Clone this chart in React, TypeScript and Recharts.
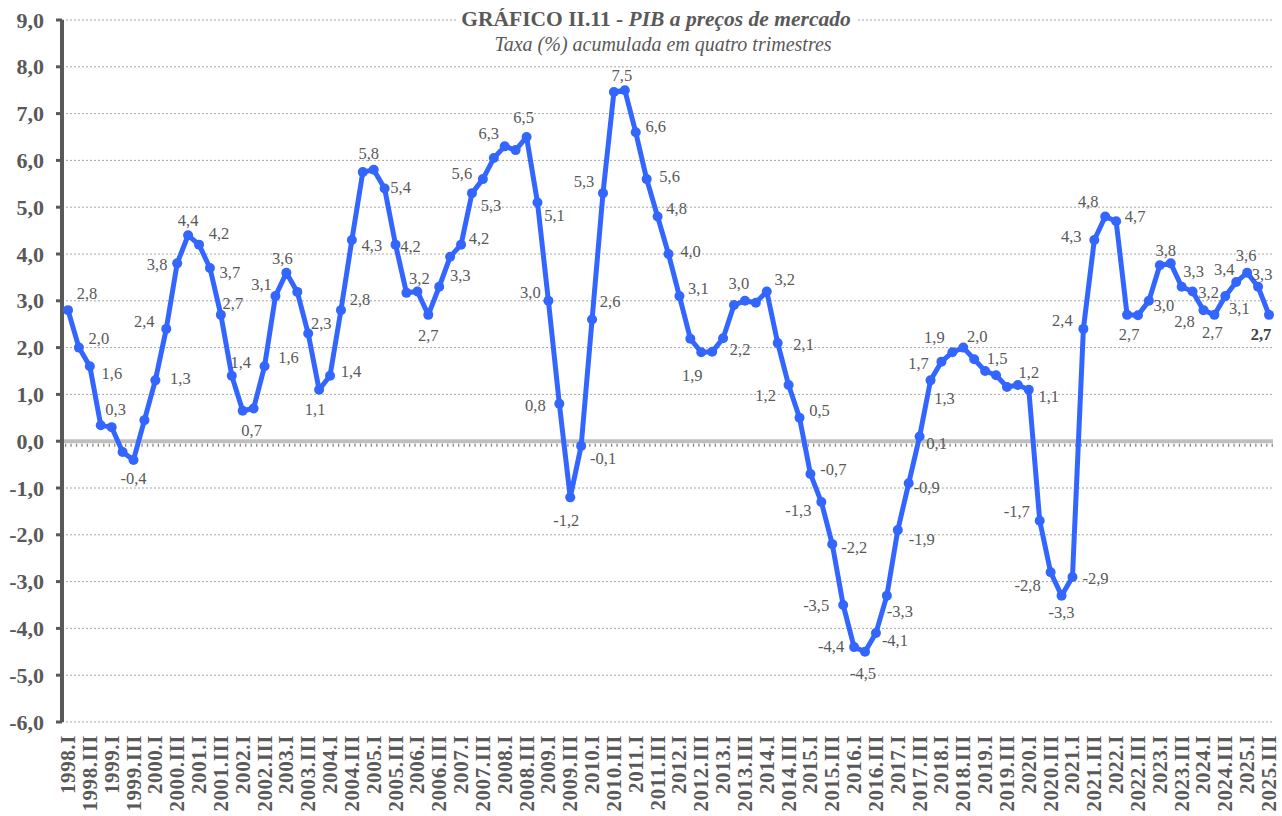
import React from 'react'
import {
  LineChart,
  Line,
  XAxis,
  YAxis,
  CartesianGrid,
  ReferenceLine,
  LabelList,
} from 'recharts'

const years = [
  1998, 1999, 2000, 2001, 2002, 2003, 2004, 2005, 2006, 2007, 2008, 2009, 2010, 2011,
  2012, 2013, 2014, 2015, 2016, 2017, 2018, 2019, 2020, 2021, 2022, 2023, 2024, 2025,
]
const quarters = ['I', 'II', 'III', 'IV']
// 1998.I .. 2025.III
const categories = years.flatMap((y) => quarters.map((q) => `${y}.${q}`)).slice(0, 111)

// PIB, taxa acumulada em quatro trimestres (%)
const pib = [
  2.8, 2.0, 1.6, 0.34, 0.3, -0.23, -0.4, 0.45,
  1.3, 2.4, 3.8, 4.4, 4.2, 3.7, 2.7, 1.4,
  0.65, 0.7, 1.6, 3.1, 3.6, 3.19, 2.3, 1.1,
  1.4, 2.8, 4.3, 5.75, 5.8, 5.4, 4.2, 3.17,
  3.2, 2.7, 3.3, 3.94, 4.2, 5.3, 5.6, 6.05,
  6.3, 6.22, 6.5, 5.1, 3.0, 0.8, -1.2, -0.1,
  2.6, 5.3, 7.46, 7.5, 6.6, 5.6, 4.8, 4.0,
  3.1, 2.19, 1.9, 1.91, 2.2, 2.91, 3.0, 2.96,
  3.2, 2.1, 1.2, 0.5, -0.7, -1.3, -2.2, -3.5,
  -4.4, -4.5, -4.1, -3.3, -1.9, -0.9, 0.1, 1.3,
  1.7, 1.9, 2.0, 1.75, 1.5, 1.41, 1.16, 1.2,
  1.1, -1.7, -2.8, -3.3, -2.9, 2.4, 4.3, 4.8,
  4.7, 2.7, 2.69, 3.0, 3.76, 3.8, 3.3, 3.2,
  2.8, 2.7, 3.1, 3.4, 3.6, 3.3, 2.7,
]

const yTicks = [-6, -5, -4, -3, -2, -1, 0, 1, 2, 3, 4, 5, 6, 7, 8, 9]

// which points carry a data label, and where the text sits relative to the dot
const labelOffsets: Record<number, [number, number]> = {
  0: [19, -17], 1: [20, -9], 2: [22, 7], 4: [4, -18], 6: [0, 19],
  8: [25, -2], 9: [-22, -7], 10: [-20, 1], 11: [0, -15], 12: [20, -11],
  13: [20, 4], 14: [12, -11], 15: [9, -13], 17: [-2, 22], 18: [24, -9],
  19: [-14, -12], 20: [-4, -14], 22: [13, -10], 23: [-4, 20], 24: [21, -4],
  25: [19, -11], 26: [20, 6], 28: [-5, -16], 29: [16, -1], 30: [15, 2],
  32: [2, -13], 33: [0, 21], 34: [21, -11], 36: [18, -6], 37: [19, 12],
  38: [-21, -6], 40: [-16, -13], 42: [-3, -20], 43: [17, 13], 44: [-18, -8],
  45: [-24, 2], 46: [-4, 23], 47: [22, 13], 48: [18, -18], 49: [-19, -12],
  51: [-3, -15], 52: [20, -6], 53: [23, -3], 54: [19, -8], 55: [22, -3],
  56: [19, -8], 58: [-9, 23], 60: [17, 11], 62: [-6, -17], 64: [18, -12],
  65: [26, 2], 66: [-23, 10], 67: [20, -7], 68: [23, -4], 69: [-23, 8],
  70: [22, 3], 71: [-27, 0], 72: [-23, -1], 73: [-2, 22], 74: [19, 7],
  75: [13, 16], 76: [24, 9], 77: [18, 4], 78: [17, 7], 79: [14, 18],
  80: [-23, 2], 81: [-18, -15], 82: [14, -11], 84: [12, -13], 87: [11, -13],
  88: [20, 7], 89: [-23, -9], 90: [-23, 13], 91: [0, 17], 92: [23, 2],
  93: [-21, -8], 94: [-23, -3], 95: [-17, -15], 96: [19, -5], 97: [2, 20],
  99: [15, 5], 101: [-5, -13], 102: [12, -15], 103: [16, 1], 104: [-19, 11],
  105: [-2, 18], 106: [14, 12], 107: [-12, -13], 108: [-1, -17], 109: [4, -12],
  110: [-8, 20],
}

const data = categories.map((q, i) => ({ q, pib: pib[i] }))

const SERIF = '"Liberation Serif", "Times New Roman", serif'
const GREY = '#595959'
const BLUE = '#3366ff'

const fmt = (v: number) => v.toFixed(1).replace('.', ',')

const renderLabel = (props: any) => {
  const off = labelOffsets[props.index]
  if (!off || props.value == null) return null
  const last = props.index === pib.length - 1
  return (
    <text
      x={props.x + off[0]}
      y={props.y + off[1]}
      textAnchor="middle"
      dominantBaseline="central"
      style={{ fontFamily: SERIF }}
      fontSize={16.5}
      fontWeight={last ? 700 : 400}
      fill={last ? '#404040' : GREY}
    >
      {fmt(Number(props.value))}
    </text>
  )
}

const XTick = (props: any) => {
  const { x, y, payload } = props
  return (
    <text
      transform={`translate(${x},${y + 11}) rotate(-90)`}
      textAnchor="end"
      dominantBaseline="central"
      style={{ fontFamily: SERIF }}
      fontSize={21}
      fontWeight={700}
      letterSpacing={0.6}
      fill={GREY}
    >
      {payload.value}
    </text>
  )
}

const YTick = (props: any) => {
  const { y, payload } = props
  return (
    <text
      x={44}
      y={y}
      textAnchor="end"
      dominantBaseline="central"
      style={{ fontFamily: SERIF }}
      fontSize={22}
      fontWeight={700}
      fill={GREY}
    >
      {fmt(payload.value)}
    </text>
  )
}

const ZeroLine = (props: any) => {
  const { x1, y1, x2, y2 } = props
  return (
    <g>
      <line x1={x1} y1={y1} x2={x2} y2={y2} stroke="#bfbfbf" strokeWidth={4} />
      <line
        x1={x1 + 3}
        y1={y1 + 4}
        x2={x2}
        y2={y2 + 4}
        stroke="#7f7f7f"
        strokeWidth={3}
        strokeDasharray="1.2 4.26"
      />
    </g>
  )
}

export default function App() {
  return (
    <div style={{ position: 'absolute', left: 0, top: 0, width: 1282, height: 816, background: '#fff' }}>
      <LineChart
        width={1282}
        height={816}
        data={data}
        margin={{ top: 20, right: 9, left: 0, bottom: 0 }}
      >
        <CartesianGrid vertical={false} stroke="#a6a6a6" strokeDasharray="2 2" />
        <XAxis
          dataKey="q"
          interval={1}
          height={94}
          padding={{ left: 6, right: 4 }}
          axisLine={false}
          tickLine={false}
          tickSize={0}
          tick={<XTick />}
        />
        <YAxis
          domain={[-6, 9]}
          ticks={yTicks}
          width={62}
          axisLine={{ stroke: GREY, strokeWidth: 4 }}
          tickLine={{ stroke: GREY, strokeWidth: 3 }}
          tickSize={6}
          tick={<YTick />}
        />
        <ReferenceLine y={0} shape={ZeroLine} />
        <Line
          dataKey="pib"
          stroke={BLUE}
          strokeWidth={5}
          strokeLinejoin="round"
          dot={{ r: 5, fill: BLUE, stroke: BLUE, strokeWidth: 0 }}
          isAnimationActive={false}
        >
          <LabelList dataKey="pib" content={renderLabel} />
        </Line>
      </LineChart>
      <svg
        width={1282}
        height={64}
        style={{ position: 'absolute', left: 0, top: 0, pointerEvents: 'none' }}
      >
        <rect x={456} y={6} width={400} height={52} fill="#fff" />
        <text
          x={656}
          y={26}
          textAnchor="middle"
          style={{ fontFamily: SERIF }}
          fontSize={21.5}
          fill={GREY}
        >
          <tspan fontWeight={700}>GRÁFICO II.11 - </tspan>
          <tspan fontWeight={700} fontStyle="italic">PIB a preços de mercado</tspan>
        </text>
        <text
          x={663}
          y={51}
          textAnchor="middle"
          style={{ fontFamily: SERIF }}
          fontSize={20}
          fontStyle="italic"
          fill={GREY}
        >
          Taxa (%) acumulada em quatro trimestres
        </text>
      </svg>
    </div>
  )
}
